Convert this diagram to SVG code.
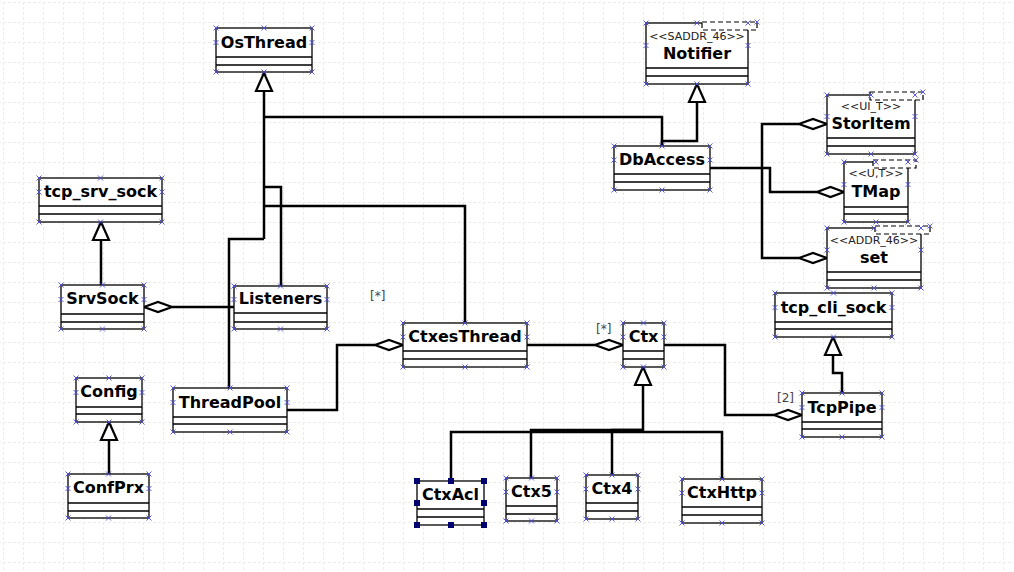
<svg xmlns="http://www.w3.org/2000/svg" xmlns:xlink="http://www.w3.org/1999/xlink" width="1014" height="572" viewBox="0 0 1014 572">
<style>
.box{fill:#fff;stroke:#000;stroke-width:1.3}
.sep{stroke:#000;stroke-width:1.3}
.tpl{fill:#fff;stroke:#000;stroke-width:1.2;stroke-dasharray:5,3}
.n{font-family:"DejaVu Sans",sans-serif;font-weight:bold;font-size:16px;text-anchor:middle;fill:#000}
.s{font-family:"DejaVu Sans",sans-serif;font-size:11px;text-anchor:middle;fill:#222}
.lbl{font-family:"DejaVu Sans",sans-serif;font-size:12px;fill:#444}
.c{fill:none;stroke:#000;stroke-width:2.5}
.tri{fill:#fff;stroke:#000;stroke-width:2.2;stroke-linejoin:miter}
.dia{fill:#fff;stroke:#000;stroke-width:2.2}
.h{fill:#000070}
</style>
<defs>
<path id="m" d="M-2.5,-2.5 L2.5,2.5 M-2.5,2.5 L2.5,-2.5" stroke="#4848e8" stroke-width="0.9" fill="none"/>
<pattern id="g" x="3" y="2" width="20" height="20" patternUnits="userSpaceOnUse">
<path d="M0,0.5 H20 M0.5,0 V20" stroke="#ececec" stroke-width="1" stroke-dasharray="3,2" fill="none"/>
</pattern>
</defs>
<rect width="1014" height="572" fill="#fff"/>
<rect width="1014" height="572" fill="url(#g)"/>

<g id="connectors">
<!-- OsThread generalization tree -->
<path class="c" d="M264,239 V91"/>
<path class="c" d="M662,146 V117 H264"/>
<path class="c" d="M281,286 V187 H264"/>
<path class="c" d="M465,323 V206 H264"/>
<path class="c" d="M229,388 V239 H264"/>
<path class="tri" d="M264,73 L256,91 L272,91 Z"/>
<!-- DbAccess -> Notifier -->
<path class="c" d="M662,146 V141 H697 V102"/>
<path class="tri" d="M697,84 L689,102 L705,102 Z"/>
<!-- DbAccess aggregations -->
<path class="c" d="M710,168 H770 V192 H817"/>
<path class="dia" d="M844,192 L830.5,187 L817,192 L830.5,197 Z"/>
<path class="c" d="M762,168 V124 H799"/>
<path class="dia" d="M827,124 L813,119 L799,124 L813,129 Z"/>
<path class="c" d="M762,168 V258 H799"/>
<path class="dia" d="M827,258 L813,253 L799,258 L813,263 Z"/>
<!-- SrvSock - tcp_srv_sock -->
<path class="c" d="M101,285 V240"/>
<path class="tri" d="M101,222 L93,240 L109,240 Z"/>
<!-- SrvSock - Listeners -->
<path class="c" d="M172,307 H234"/>
<path class="dia" d="M144,307 L158,302 L172,307 L158,312 Z"/>
<!-- ConfPrx - Config -->
<path class="c" d="M109,474 V440"/>
<path class="tri" d="M109,422 L101,440 L117,440 Z"/>
<!-- ThreadPool - CtxesThread -->
<path class="c" d="M287,410 H337 V345 H375"/>
<path class="dia" d="M403,345 L389,340 L375,345 L389,350 Z"/>
<text class="lbl" x="370" y="300">[*]</text>
<!-- CtxesThread - Ctx -->
<path class="c" d="M527,345 H595"/>
<path class="dia" d="M623,345 L609,340 L595,345 L609,350 Z"/>
<text class="lbl" x="596" y="333">[*]</text>
<!-- Ctx - TcpPipe -->
<path class="c" d="M664,345 H725 V415 H774"/>
<path class="dia" d="M802,415 L788,410 L774,415 L788,420 Z"/>
<text class="lbl" x="777" y="402">[2]</text>
<!-- TcpPipe - tcp_cli_sock -->
<path class="c" d="M842,393 V373 H833 V355"/>
<path class="tri" d="M833,337 L825,355 L841,355 Z"/>
<!-- Ctx generalization tree -->
<path class="c" d="M643,385 V432"/>
<path class="c" d="M643,430 H612 V475"/>
<path class="c" d="M643,430 H531 V478"/>
<path class="c" d="M643,432 H451 V481"/>
<path class="c" d="M643,432 H722 V479"/>
<path class="tri" d="M643,367 L635,385 L651,385 Z"/>
</g>

<g id="OsThread">
<rect class="box" x="216" y="28" width="96" height="44"/>
<path class="sep" d="M216,57 H312 M216,65 H312"/>
<text class="n" x="264" y="48">OsThread</text>
<use href="#m" x="216" y="28"/><use href="#m" x="264" y="28"/><use href="#m" x="312" y="28"/>
<use href="#m" x="216" y="42.5"/><use href="#m" x="312" y="42.5"/>
<use href="#m" x="216" y="72"/><use href="#m" x="264" y="72"/><use href="#m" x="312" y="72"/>
</g>

<g id="Notifier">
<rect class="box" x="646" y="23" width="102" height="61"/>
<rect class="tpl" x="702" y="22" width="55" height="8"/>
<path class="sep" d="M646,68 H748 M646,76 H748"/>
<text class="s" x="697" y="40">&lt;&lt;SADDR_46&gt;&gt;</text>
<text class="n" x="697" y="59">Notifier</text>
<use href="#m" x="646" y="23"/><use href="#m" x="697" y="23"/><use href="#m" x="748" y="23"/><use href="#m" x="757" y="22"/>
<use href="#m" x="646" y="45.5"/><use href="#m" x="748" y="45.5"/>
<use href="#m" x="646" y="84"/><use href="#m" x="697" y="84"/><use href="#m" x="748" y="84"/>
</g>

<g id="DbAccess">
<rect class="box" x="614" y="146" width="96" height="44"/>
<path class="sep" d="M614,174 H710 M614,182 H710"/>
<text class="n" x="662" y="165">DbAccess</text>
<use href="#m" x="614" y="146"/><use href="#m" x="662" y="146"/><use href="#m" x="710" y="146"/>
<use href="#m" x="614" y="160"/><use href="#m" x="710" y="160"/>
<use href="#m" x="614" y="190"/><use href="#m" x="662" y="190"/><use href="#m" x="710" y="190"/>
</g>

<g id="StorItem">
<rect class="box" x="827" y="95" width="88" height="59"/>
<rect class="tpl" x="870" y="92" width="53" height="8"/>
<path class="sep" d="M827,138 H915 M827,146 H915"/>
<text class="s" x="871" y="110">&lt;&lt;UI_T&gt;&gt;</text>
<text class="n" x="871" y="129">StorItem</text>
<use href="#m" x="827" y="95"/><use href="#m" x="871" y="95"/><use href="#m" x="915" y="95"/><use href="#m" x="923" y="92"/>
<use href="#m" x="827" y="116.5"/><use href="#m" x="915" y="116.5"/>
<use href="#m" x="827" y="154"/><use href="#m" x="871" y="154"/><use href="#m" x="915" y="154"/>
</g>

<g id="TMap">
<rect class="box" x="844" y="162" width="64" height="60"/>
<rect class="tpl" x="873" y="160" width="43" height="8"/>
<path class="sep" d="M844,207 H908 M844,214 H908"/>
<text class="s" x="876" y="177">&lt;&lt;U,T&gt;&gt;</text>
<text class="n" x="876" y="197">TMap</text>
<use href="#m" x="844" y="162"/><use href="#m" x="876" y="162"/><use href="#m" x="908" y="162"/><use href="#m" x="916" y="160"/>
<use href="#m" x="844" y="184.5"/><use href="#m" x="908" y="184.5"/>
<use href="#m" x="844" y="222"/><use href="#m" x="876" y="222"/><use href="#m" x="908" y="222"/>
</g>

<g id="set">
<rect class="box" x="827" y="228" width="94" height="60"/>
<rect class="tpl" x="875" y="226" width="55" height="8"/>
<path class="sep" d="M827,272 H921 M827,280 H921"/>
<text class="s" x="874" y="244">&lt;&lt;ADDR_46&gt;&gt;</text>
<text class="n" x="874" y="263">set</text>
<use href="#m" x="827" y="228"/><use href="#m" x="874" y="228"/><use href="#m" x="921" y="228"/><use href="#m" x="930" y="226"/>
<use href="#m" x="827" y="250"/><use href="#m" x="921" y="250"/>
<use href="#m" x="827" y="288"/><use href="#m" x="874" y="288"/><use href="#m" x="921" y="288"/>
</g>

<g id="tcp_srv_sock">
<rect class="box" x="39" y="178" width="123" height="44"/>
<path class="sep" d="M39,206 H162 M39,214 H162"/>
<text class="n" x="100.5" y="197">tcp_srv_sock</text>
<use href="#m" x="39" y="178"/><use href="#m" x="100.5" y="178"/><use href="#m" x="162" y="178"/>
<use href="#m" x="39" y="192"/><use href="#m" x="162" y="192"/>
<use href="#m" x="39" y="222"/><use href="#m" x="100.5" y="222"/><use href="#m" x="162" y="222"/>
</g>

<g id="SrvSock">
<rect class="box" x="61" y="285" width="83" height="44"/>
<path class="sep" d="M61,314 H144 M61,322 H144"/>
<text class="n" x="102.5" y="304">SrvSock</text>
<use href="#m" x="61" y="285"/><use href="#m" x="102.5" y="285"/><use href="#m" x="144" y="285"/>
<use href="#m" x="61" y="299.5"/><use href="#m" x="144" y="299.5"/>
<use href="#m" x="61" y="329"/><use href="#m" x="102.5" y="329"/><use href="#m" x="144" y="329"/>
</g>

<g id="Listeners">
<rect class="box" x="234" y="286" width="93" height="43"/>
<path class="sep" d="M234,313 H327 M234,322 H327"/>
<text class="n" x="280.5" y="304">Listeners</text>
<use href="#m" x="234" y="286"/><use href="#m" x="280.5" y="286"/><use href="#m" x="327" y="286"/>
<use href="#m" x="234" y="299.5"/><use href="#m" x="327" y="299.5"/>
<use href="#m" x="234" y="329"/><use href="#m" x="280.5" y="329"/><use href="#m" x="327" y="329"/>
</g>

<g id="CtxesThread">
<rect class="box" x="403" y="323" width="124" height="44"/>
<path class="sep" d="M403,351 H527 M403,359 H527"/>
<text class="n" x="465" y="342">CtxesThread</text>
<use href="#m" x="403" y="323"/><use href="#m" x="465" y="323"/><use href="#m" x="527" y="323"/>
<use href="#m" x="403" y="337"/><use href="#m" x="527" y="337"/>
<use href="#m" x="403" y="367"/><use href="#m" x="465" y="367"/><use href="#m" x="527" y="367"/>
</g>

<g id="ThreadPool">
<rect class="box" x="173" y="388" width="114" height="44"/>
<path class="sep" d="M173,417 H287 M173,424 H287"/>
<text class="n" x="230" y="408">ThreadPool</text>
<use href="#m" x="173" y="388"/><use href="#m" x="230" y="388"/><use href="#m" x="287" y="388"/>
<use href="#m" x="173" y="402.5"/><use href="#m" x="287" y="402.5"/>
<use href="#m" x="173" y="432"/><use href="#m" x="230" y="432"/><use href="#m" x="287" y="432"/>
</g>

<g id="Config">
<rect class="box" x="76" y="378" width="66" height="44"/>
<path class="sep" d="M76,407 H142 M76,414 H142"/>
<text class="n" x="109" y="397">Config</text>
<use href="#m" x="76" y="378"/><use href="#m" x="109" y="378"/><use href="#m" x="142" y="378"/>
<use href="#m" x="76" y="392.5"/><use href="#m" x="142" y="392.5"/>
<use href="#m" x="76" y="422"/><use href="#m" x="109" y="422"/><use href="#m" x="142" y="422"/>
</g>

<g id="ConfPrx">
<rect class="box" x="68" y="474" width="81" height="44"/>
<path class="sep" d="M68,503 H149 M68,511 H149"/>
<text class="n" x="108.5" y="493">ConfPrx</text>
<use href="#m" x="68" y="474"/><use href="#m" x="108.5" y="474"/><use href="#m" x="149" y="474"/>
<use href="#m" x="68" y="488.5"/><use href="#m" x="149" y="488.5"/>
<use href="#m" x="68" y="518"/><use href="#m" x="108.5" y="518"/><use href="#m" x="149" y="518"/>
</g>

<g id="Ctx">
<rect class="box" x="623" y="323" width="41" height="44"/>
<path class="sep" d="M623,351 H664 M623,359 H664"/>
<text class="n" x="643.5" y="342">Ctx</text>
<use href="#m" x="623" y="323"/><use href="#m" x="643.5" y="323"/><use href="#m" x="664" y="323"/>
<use href="#m" x="623" y="337"/><use href="#m" x="664" y="337"/>
<use href="#m" x="623" y="367"/><use href="#m" x="643.5" y="367"/><use href="#m" x="664" y="367"/>
</g>

<g id="tcp_cli_sock">
<rect class="box" x="775" y="293" width="117" height="44"/>
<path class="sep" d="M775,322 H892 M775,329 H892"/>
<text class="n" x="833.5" y="313">tcp_cli_sock</text>
<use href="#m" x="775" y="293"/><use href="#m" x="833.5" y="293"/><use href="#m" x="892" y="293"/>
<use href="#m" x="775" y="307.5"/><use href="#m" x="892" y="307.5"/>
<use href="#m" x="775" y="337"/><use href="#m" x="833.5" y="337"/><use href="#m" x="892" y="337"/>
</g>

<g id="TcpPipe">
<rect class="box" x="802" y="393" width="80" height="44"/>
<path class="sep" d="M802,422 H882 M802,429 H882"/>
<text class="n" x="842" y="413">TcpPipe</text>
<use href="#m" x="802" y="393"/><use href="#m" x="842" y="393"/><use href="#m" x="882" y="393"/>
<use href="#m" x="802" y="407.5"/><use href="#m" x="882" y="407.5"/>
<use href="#m" x="802" y="437"/><use href="#m" x="842" y="437"/><use href="#m" x="882" y="437"/>
</g>

<g id="CtxAcl">
<rect class="box" x="417" y="481" width="67" height="44"/>
<path class="sep" d="M417,509 H484 M417,517 H484"/>
<text class="n" x="450.5" y="500">CtxAcl</text>
<rect class="h" x="414" y="478" width="6" height="6"/><rect class="h" x="448" y="478" width="6" height="6"/><rect class="h" x="481" y="478" width="6" height="6"/>
<rect class="h" x="414" y="500" width="6" height="6"/><rect class="h" x="481" y="500" width="6" height="6"/>
<rect class="h" x="414" y="522" width="6" height="6"/><rect class="h" x="448" y="522" width="6" height="6"/><rect class="h" x="481" y="522" width="6" height="6"/>
</g>

<g id="Ctx5">
<rect class="box" x="506" y="478" width="51" height="43"/>
<path class="sep" d="M506,506 H557 M506,514 H557"/>
<text class="n" x="531.5" y="497">Ctx5</text>
<use href="#m" x="506" y="478"/><use href="#m" x="531.5" y="478"/><use href="#m" x="557" y="478"/>
<use href="#m" x="506" y="492"/><use href="#m" x="557" y="492"/>
<use href="#m" x="506" y="521"/><use href="#m" x="531.5" y="521"/><use href="#m" x="557" y="521"/>
</g>

<g id="Ctx4">
<rect class="box" x="586" y="475" width="52" height="44"/>
<path class="sep" d="M586,503 H638 M586,511 H638"/>
<text class="n" x="612" y="494">Ctx4</text>
<use href="#m" x="586" y="475"/><use href="#m" x="612" y="475"/><use href="#m" x="638" y="475"/>
<use href="#m" x="586" y="489"/><use href="#m" x="638" y="489"/>
<use href="#m" x="586" y="519"/><use href="#m" x="612" y="519"/><use href="#m" x="638" y="519"/>
</g>

<g id="CtxHttp">
<rect class="box" x="682" y="479" width="80" height="44"/>
<path class="sep" d="M682,507 H762 M682,515 H762"/>
<text class="n" x="722" y="498">CtxHttp</text>
<use href="#m" x="682" y="479"/><use href="#m" x="722" y="479"/><use href="#m" x="762" y="479"/>
<use href="#m" x="682" y="493"/><use href="#m" x="762" y="493"/>
<use href="#m" x="682" y="523"/><use href="#m" x="722" y="523"/><use href="#m" x="762" y="523"/>
</g>
</svg>
